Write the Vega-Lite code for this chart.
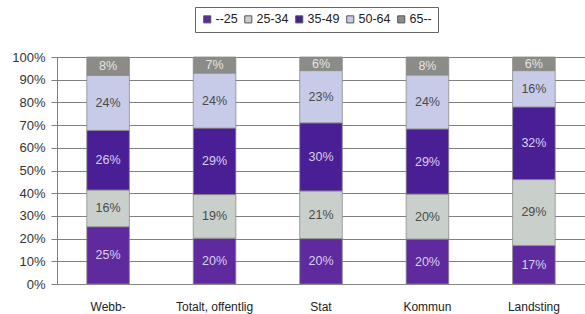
{
  "$schema": "https://vega.github.io/schema/vega-lite/v6.json",
  "width": 528,
  "height": 227,
  "autosize": {"type": "none"},
  "padding": {"left": 57, "top": 57, "right": 0, "bottom": 30},
  "background": "white",
  "config": {
    "font": "Liberation Sans",
    "view": {"stroke": null}
  },
  "data": {
    "values": [
      {"cat": "Webb-", "age": "--25", "pct": 0.25},
      {"cat": "Webb-", "age": "25-34", "pct": 0.16},
      {"cat": "Webb-", "age": "35-49", "pct": 0.26},
      {"cat": "Webb-", "age": "50-64", "pct": 0.24},
      {"cat": "Webb-", "age": "65--", "pct": 0.08},
      {"cat": "Totalt, offentlig", "age": "--25", "pct": 0.20},
      {"cat": "Totalt, offentlig", "age": "25-34", "pct": 0.19},
      {"cat": "Totalt, offentlig", "age": "35-49", "pct": 0.29},
      {"cat": "Totalt, offentlig", "age": "50-64", "pct": 0.24},
      {"cat": "Totalt, offentlig", "age": "65--", "pct": 0.07},
      {"cat": "Stat", "age": "--25", "pct": 0.20},
      {"cat": "Stat", "age": "25-34", "pct": 0.21},
      {"cat": "Stat", "age": "35-49", "pct": 0.30},
      {"cat": "Stat", "age": "50-64", "pct": 0.23},
      {"cat": "Stat", "age": "65--", "pct": 0.06},
      {"cat": "Kommun", "age": "--25", "pct": 0.20},
      {"cat": "Kommun", "age": "25-34", "pct": 0.20},
      {"cat": "Kommun", "age": "35-49", "pct": 0.29},
      {"cat": "Kommun", "age": "50-64", "pct": 0.24},
      {"cat": "Kommun", "age": "65--", "pct": 0.08},
      {"cat": "Landsting", "age": "--25", "pct": 0.17},
      {"cat": "Landsting", "age": "25-34", "pct": 0.29},
      {"cat": "Landsting", "age": "35-49", "pct": 0.32},
      {"cat": "Landsting", "age": "50-64", "pct": 0.16},
      {"cat": "Landsting", "age": "65--", "pct": 0.06}
    ]
  },
  "transform": [
    {"stack": "pct", "groupby": ["cat"], "sort": [{"field": "age", "order": "ascending"}], "offset": "normalize", "as": ["y0", "y1"]}
  ],
  "encoding": {
    "x": {
      "field": "cat", "type": "nominal", "sort": null,
      "scale": {"paddingInner": 0.6, "paddingOuter": 0.28},
      "axis": {"title": null, "labelAngle": 0, "ticks": false, "labelPadding": 17, "labelFontSize": 12, "labelColor": "#222", "domainColor": "#888", "grid": false}
    }
  },
  "layer": [
    {
      "mark": {"type": "bar", "stroke": "#8a8a8a", "strokeWidth": 0.8},
      "encoding": {
        "y": {
          "field": "y0", "type": "quantitative",
          "scale": {"domain": [0, 1], "nice": false},
          "axis": {"title": null, "format": ".0%", "values": [0,0.1,0.2,0.3,0.4,0.5,0.6,0.7,0.8,0.9,1], "labelOverlap": false, "grid": true, "gridColor": "#808080", "tickColor": "#808080", "domainColor": "#808080", "tickSize": 6, "labelPadding": 6, "labelFontSize": 13, "labelColor": "#333"}
        },
        "y2": {"field": "y1"},
        "color": {
          "field": "age", "type": "nominal",
          "scale": {"domain": ["--25", "25-34", "35-49", "50-64", "65--"], "range": ["#5e2a9e", "#c9d0cc", "#4a1f96", "#c8cbe8", "#8b8b87"]},
          "legend": {
            "title": null, "orient": "none", "direction": "horizontal",
            "legendX": 138, "legendY": -50,
            "symbolType": "square", "symbolSize": 50, "symbolStrokeColor": "#555", "symbolStrokeWidth": 1,
            "labelFontSize": 12.5, "labelColor": "#222", "columnPadding": 4, "labelOffset": 2,
            "strokeColor": "#666", "fillColor": "white", "padding": 6
          }
        }
      }
    },
    {
      "transform": [
        {"fold": ["y0", "y1"], "as": ["edge", "edgeValue"]},
        {"aggregate": [{"op": "mean", "field": "edgeValue", "as": "mid"}], "groupby": ["cat", "age", "pct"]}
      ],
      "mark": {"type": "text", "fontSize": 12.5},
      "encoding": {
        "y": {"field": "mid", "type": "quantitative",
          "axis": {"title": null, "format": ".0%", "values": [0,0.1,0.2,0.3,0.4,0.5,0.6,0.7,0.8,0.9,1], "labelOverlap": false, "grid": true, "gridColor": "#808080", "tickColor": "#808080", "domainColor": "#808080", "tickSize": 6, "labelPadding": 6, "labelFontSize": 13, "labelColor": "#333"}},
        "text": {"field": "pct", "type": "quantitative", "format": ".0%"},
        "color": {
          "field": "age", "type": "nominal",
          "scale": {"domain": ["--25", "25-34", "35-49", "50-64", "65--"], "range": ["#d8cfee", "#4a4a4a", "#d8cfee", "#4a4a4a", "#e4e4e4"]},
          "legend": null
        }
      }
    }
  ],
  "resolve": {"scale": {"color": "independent"}}
}
